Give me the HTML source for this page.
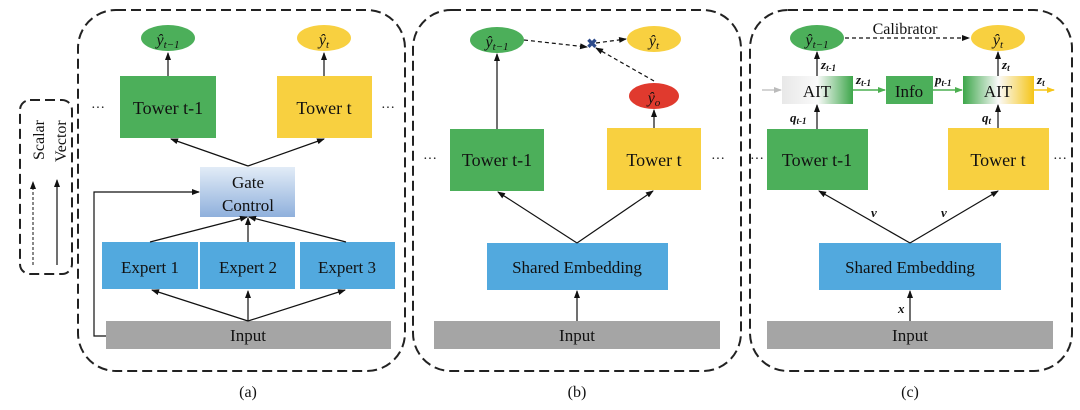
<!DOCTYPE html>
<html><head><meta charset="utf-8"><style>
html,body{margin:0;padding:0;background:#fff}
svg{display:block}
text{font-family:"Liberation Serif",serif;fill:#111}
</style></head><body>
<svg width="1080" height="410" viewBox="0 0 1080 410" xmlns="http://www.w3.org/2000/svg">
<defs>
<marker id="a" markerWidth="8" markerHeight="8" refX="7" refY="4" orient="auto" markerUnits="userSpaceOnUse"><path d="M0,1 L8,4 L0,7 Z" fill="#111"/></marker>
<marker id="ag" markerWidth="8" markerHeight="8" refX="7" refY="4" orient="auto" markerUnits="userSpaceOnUse"><path d="M0,1 L8,4 L0,7 Z" fill="#4caf50"/></marker>
<marker id="ay" markerWidth="8" markerHeight="8" refX="7" refY="4" orient="auto" markerUnits="userSpaceOnUse"><path d="M0,1 L8,4 L0,7 Z" fill="#f5c518"/></marker>
<marker id="agr" markerWidth="8" markerHeight="8" refX="7" refY="4" orient="auto" markerUnits="userSpaceOnUse"><path d="M0,1 L8,4 L0,7 Z" fill="#bbb"/></marker>
<linearGradient id="gate" x1="0" y1="0" x2="0" y2="1"><stop offset="0" stop-color="#e2ecf7"/><stop offset="1" stop-color="#8fb0dc"/></linearGradient>
<linearGradient id="ait1" x1="0" y1="0" x2="1" y2="0"><stop offset="0" stop-color="#e8e8e8"/><stop offset="0.5" stop-color="#fafafa"/><stop offset="1" stop-color="#3da64a"/></linearGradient>
<linearGradient id="ait2" x1="0" y1="0" x2="1" y2="0"><stop offset="0" stop-color="#3da64a"/><stop offset="0.5" stop-color="#fafafa"/><stop offset="1" stop-color="#f5c518"/></linearGradient>
</defs>
<g fill="none" stroke="#222" stroke-width="2" stroke-dasharray="10,5">
<rect x="78" y="10" width="327" height="361" rx="38"/>
<rect x="413" y="10" width="328" height="361" rx="38"/>
<rect x="750" y="10" width="322" height="361" rx="38"/>
<rect x="20" y="100" width="52" height="174" rx="10"/>
</g>
<!-- legend -->
<line x1="33" y1="265" x2="33" y2="182" stroke="#111" stroke-width="1" stroke-dasharray="3,2" marker-end="url(#a)"/>
<line x1="57" y1="265" x2="57" y2="180" stroke="#111" stroke-width="1.2" marker-end="url(#a)"/>
<text transform="translate(44,160) rotate(-90)" font-size="16">Scalar</text>
<text transform="translate(66,162) rotate(-90)" font-size="16">Vector</text>

<!-- Panel a -->
<ellipse cx="168" cy="38" rx="27" ry="13" fill="#4caf5a"/>
<ellipse cx="324" cy="38" rx="27" ry="13" fill="#f8d040"/>
<text x="168" y="45" font-size="16" font-style="italic" text-anchor="middle">ŷ<tspan font-size="11" dy="3">t−1</tspan></text>
<text x="324" y="45" font-size="16" font-style="italic" text-anchor="middle">ŷ<tspan font-size="11" dy="3">t</tspan></text>
<rect x="120" y="76" width="96" height="62" fill="#4caf5a"/>
<rect x="277" y="76" width="95" height="62" fill="#f8d040"/>
<text x="168" y="114" font-size="18" text-anchor="middle">Tower t-1</text>
<text x="324" y="114" font-size="18" text-anchor="middle">Tower t</text>
<text x="98" y="112" font-size="14" text-anchor="middle">···</text>
<text x="388" y="112" font-size="14" text-anchor="middle">···</text>
<line x1="168" y1="76" x2="168" y2="53" stroke="#111" stroke-width="1.2" marker-end="url(#a)"/>
<line x1="324" y1="76" x2="324" y2="53" stroke="#111" stroke-width="1.2" marker-end="url(#a)"/>
<rect x="200" y="167" width="95" height="50" fill="url(#gate)"/>
<text x="248" y="188" font-size="17" text-anchor="middle">Gate</text>
<text x="248" y="211" font-size="17" text-anchor="middle">Control</text>
<line x1="248" y1="166" x2="171" y2="139" stroke="#111" stroke-width="1.2" marker-end="url(#a)"/>
<line x1="248" y1="166" x2="324" y2="139" stroke="#111" stroke-width="1.2" marker-end="url(#a)"/>
<rect x="102" y="242" width="96" height="47" fill="#52a9de"/>
<rect x="200" y="242" width="95" height="47" fill="#52a9de"/>
<rect x="300" y="242" width="95" height="47" fill="#52a9de"/>
<text x="150" y="273" font-size="17" text-anchor="middle">Expert 1</text>
<text x="248" y="273" font-size="17" text-anchor="middle">Expert 2</text>
<text x="347" y="273" font-size="17" text-anchor="middle">Expert 3</text>
<line x1="150" y1="242" x2="247" y2="217" stroke="#111" stroke-width="1.2" marker-end="url(#a)"/>
<line x1="248" y1="242" x2="248" y2="218" stroke="#111" stroke-width="1.2" marker-end="url(#a)"/>
<line x1="346" y1="242" x2="249" y2="217" stroke="#111" stroke-width="1.2" marker-end="url(#a)"/>
<rect x="106" y="321" width="285" height="28" fill="#a5a5a5"/>
<text x="248" y="341" font-size="17" text-anchor="middle">Input</text>
<line x1="248" y1="321" x2="152" y2="290" stroke="#111" stroke-width="1.2" marker-end="url(#a)"/>
<line x1="248" y1="321" x2="248" y2="291" stroke="#111" stroke-width="1.2" marker-end="url(#a)"/>
<line x1="248" y1="321" x2="345" y2="290" stroke="#111" stroke-width="1.2" marker-end="url(#a)"/>
<polyline points="106,336 94,336 94,192 199,192" fill="none" stroke="#111" stroke-width="1.2" marker-end="url(#a)"/>
<text x="248" y="397" font-size="16" text-anchor="middle">(a)</text>

<!-- Panel b -->
<ellipse cx="497" cy="40" rx="27" ry="13" fill="#4caf5a"/>
<ellipse cx="654" cy="39" rx="27" ry="13" fill="#f8d040"/>
<ellipse cx="654" cy="96" rx="25" ry="13" fill="#e03a2e"/>
<text x="497" y="47" font-size="16" font-style="italic" text-anchor="middle">ŷ<tspan font-size="11" dy="3">t−1</tspan></text>
<text x="654" y="46" font-size="16" font-style="italic" text-anchor="middle">ŷ<tspan font-size="11" dy="3">t</tspan></text>
<text x="654" y="103" font-size="16" font-style="italic" text-anchor="middle">ŷ<tspan font-size="11" dy="3">o</tspan></text>
<line x1="524" y1="40" x2="587" y2="47" stroke="#111" stroke-width="1.2" stroke-dasharray="4,3" marker-end="url(#a)"/>
<line x1="596" y1="43" x2="626" y2="39" stroke="#111" stroke-width="1.2" stroke-dasharray="4,3" marker-end="url(#a)"/>
<line x1="654" y1="81" x2="596" y2="48" stroke="#111" stroke-width="1.2" stroke-dasharray="4,3" marker-end="url(#a)"/>
<text x="592" y="48" font-size="13" font-weight="bold" fill="#2c4a8a" text-anchor="middle" style="fill:#2c4a8a">✖</text>
<line x1="497" y1="129" x2="497" y2="54" stroke="#111" stroke-width="1.2" marker-end="url(#a)"/>
<line x1="654" y1="128" x2="654" y2="110" stroke="#111" stroke-width="1.2" marker-end="url(#a)"/>
<rect x="450" y="129" width="94" height="62" fill="#4caf5a"/>
<rect x="607" y="128" width="94" height="62" fill="#f8d040"/>
<text x="497" y="166" font-size="18" text-anchor="middle">Tower t-1</text>
<text x="654" y="166" font-size="18" text-anchor="middle">Tower t</text>
<text x="430" y="163" font-size="14" text-anchor="middle">···</text>
<text x="718" y="163" font-size="14" text-anchor="middle">···</text>
<rect x="487" y="243" width="181" height="47" fill="#52a9de"/>
<text x="577" y="273" font-size="17" text-anchor="middle">Shared Embedding</text>
<line x1="577" y1="243" x2="498" y2="192" stroke="#111" stroke-width="1.2" marker-end="url(#a)"/>
<line x1="577" y1="243" x2="653" y2="191" stroke="#111" stroke-width="1.2" marker-end="url(#a)"/>
<rect x="434" y="321" width="286" height="28" fill="#a5a5a5"/>
<text x="577" y="341" font-size="17" text-anchor="middle">Input</text>
<line x1="577" y1="321" x2="577" y2="291" stroke="#111" stroke-width="1.2" marker-end="url(#a)"/>
<text x="577" y="397" font-size="16" text-anchor="middle">(b)</text>

<!-- Panel c -->
<ellipse cx="817" cy="38" rx="27" ry="13" fill="#4caf5a"/>
<ellipse cx="998" cy="38" rx="27" ry="13" fill="#f8d040"/>
<text x="817" y="45" font-size="16" font-style="italic" text-anchor="middle">ŷ<tspan font-size="11" dy="3">t−1</tspan></text>
<text x="998" y="45" font-size="16" font-style="italic" text-anchor="middle">ŷ<tspan font-size="11" dy="3">t</tspan></text>
<text x="905" y="34" font-size="16" text-anchor="middle">Calibrator</text>
<line x1="845" y1="38" x2="969" y2="38" stroke="#111" stroke-width="1.2" stroke-dasharray="4,3" marker-end="url(#a)"/>
<rect x="782" y="76" width="71" height="28" fill="url(#ait1)"/>
<rect x="886" y="76" width="47" height="28" fill="#4caf5a"/>
<rect x="963" y="76" width="71" height="28" fill="url(#ait2)"/>
<text x="817" y="97" font-size="17" text-anchor="middle">AIT</text>
<text x="909" y="97" font-size="17" text-anchor="middle">Info</text>
<text x="998" y="97" font-size="17" text-anchor="middle">AIT</text>
<line x1="762" y1="90" x2="781" y2="90" stroke="#bbb" stroke-width="1.2" marker-end="url(#agr)"/>
<line x1="853" y1="90" x2="885" y2="90" stroke="#4caf50" stroke-width="1.5" marker-end="url(#ag)"/>
<line x1="933" y1="90" x2="962" y2="90" stroke="#4caf50" stroke-width="1.5" marker-end="url(#ag)"/>
<line x1="1034" y1="90" x2="1054" y2="90" stroke="#f5c518" stroke-width="1.5" marker-end="url(#ay)"/>
<g font-style="italic" font-weight="bold" font-size="13">
<text x="856" y="84">z<tspan font-size="9" dy="2">t-1</tspan></text>
<text x="935" y="84">p<tspan font-size="9" dy="2">t-1</tspan></text>
<text x="1037" y="84">z<tspan font-size="9" dy="2">t</tspan></text>
<text x="821" y="69">z<tspan font-size="9" dy="2">t-1</tspan></text>
<text x="1002" y="69">z<tspan font-size="9" dy="2">t</tspan></text>
<text x="790" y="122">q<tspan font-size="9" dy="2">t-1</tspan></text>
<text x="982" y="122">q<tspan font-size="9" dy="2">t</tspan></text>
<text x="871" y="217">v</text>
<text x="941" y="217">v</text>
<text x="898" y="313">x</text>
</g>
<line x1="817" y1="76" x2="817" y2="52" stroke="#111" stroke-width="1.2" marker-end="url(#a)"/>
<line x1="998" y1="76" x2="998" y2="52" stroke="#111" stroke-width="1.2" marker-end="url(#a)"/>
<line x1="817" y1="129" x2="817" y2="105" stroke="#111" stroke-width="1.2" marker-end="url(#a)"/>
<line x1="998" y1="128" x2="998" y2="105" stroke="#111" stroke-width="1.2" marker-end="url(#a)"/>
<rect x="767" y="129" width="101" height="61" fill="#4caf5a"/>
<rect x="948" y="128" width="101" height="62" fill="#f8d040"/>
<text x="817" y="166" font-size="18" text-anchor="middle">Tower t-1</text>
<text x="998" y="166" font-size="18" text-anchor="middle">Tower t</text>
<text x="757" y="163" font-size="14" text-anchor="middle">···</text>
<text x="1060" y="163" font-size="14" text-anchor="middle">···</text>
<rect x="819" y="243" width="182" height="47" fill="#52a9de"/>
<text x="910" y="273" font-size="17" text-anchor="middle">Shared Embedding</text>
<line x1="910" y1="243" x2="819" y2="191" stroke="#111" stroke-width="1.2" marker-end="url(#a)"/>
<line x1="910" y1="243" x2="998" y2="191" stroke="#111" stroke-width="1.2" marker-end="url(#a)"/>
<rect x="767" y="321" width="286" height="28" fill="#a5a5a5"/>
<text x="910" y="341" font-size="17" text-anchor="middle">Input</text>
<line x1="910" y1="321" x2="910" y2="291" stroke="#111" stroke-width="1.2" marker-end="url(#a)"/>
<text x="910" y="397" font-size="16" text-anchor="middle">(c)</text>
</svg>
</body></html>
